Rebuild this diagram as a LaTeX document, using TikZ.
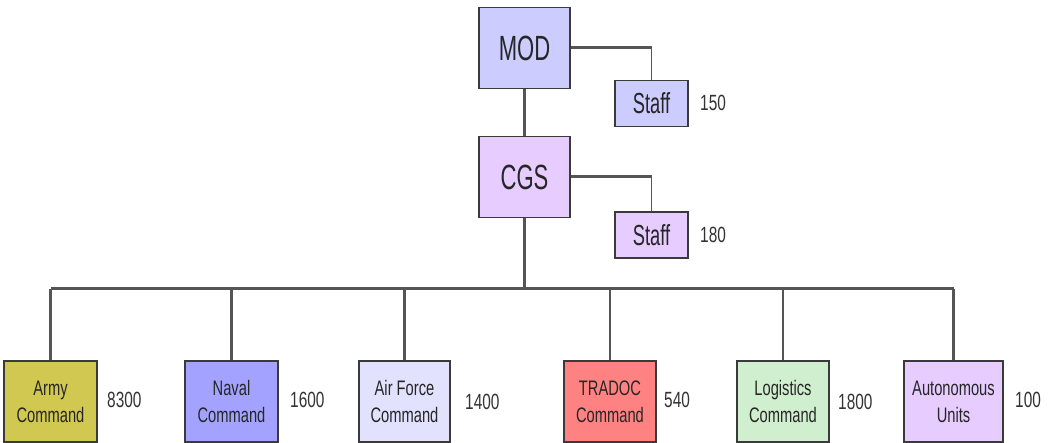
\documentclass[tikz,border=0pt]{standalone}
\usepackage{fontspec}
\setmainfont[FakeStretch=0.7]{Liberation Sans}
\newfontfamily\narrowfont[FakeStretch=0.63]{Liberation Sans}
\definecolor{cMOD}{HTML}{CCCCFF}
\definecolor{cCGS}{HTML}{E6CCFF}
\definecolor{cArmy}{HTML}{D0C850}
\definecolor{cNaval}{HTML}{A3A3FF}
\definecolor{cAir}{HTML}{E2E2FF}
\definecolor{cTra}{HTML}{FF8282}
\definecolor{cLog}{HTML}{CFEFCF}
\definecolor{cAuto}{HTML}{E6CCFF}
\definecolor{edge}{HTML}{3A3A3A}
\definecolor{wire}{HTML}{555555}
\begin{document}
\begin{tikzpicture}[x=1pt,y=-1pt,
  box/.style={draw=edge,line width=1.6pt,inner sep=0pt,align=center,text=black!85},
  topbox/.style={box,minimum width=91pt,minimum height=81pt,font=\narrowfont\fontsize{35}{38}\selectfont},
  staffbox/.style={box,minimum width=73pt,minimum height=46pt,font=\narrowfont\fontsize{29}{31}\selectfont},
  unitbox/.style={box,minimum width=92pt,minimum height=81pt,font=\fontsize{21}{27}\selectfont},
  num/.style={anchor=west,inner sep=0pt,text=black!80,font=\fontsize{22}{24}\selectfont},
  thickwire/.style={draw=wire,line width=3pt},
  thinwire/.style={draw=wire,line width=1.3pt},
  midwire/.style={draw=wire,line width=2.2pt}]
\useasboundingbox (0,0) rectangle (1053,443);
% top
\node[topbox,fill=cMOD] (mod) at (524.5,48) {MOD};
\node[staffbox,fill=cMOD] (staff1) at (651.5,103.5) {Staff};
\node[num] (n150) at (700,103) {150};
\node[topbox,fill=cCGS] (cgs) at (524.5,177) {CGS};
\node[staffbox,fill=cCGS] (staff2) at (651.5,235) {Staff};
\node[num] (n180) at (700,235) {180};
% bottom units
\node[unitbox,fill=cArmy,minimum width=93pt] (army) at (50.5,401.5) {Army\\Command};
\node[num] (n8300) at (107,400) {8300};
\node[unitbox,fill=cNaval,minimum width=93pt] (naval) at (231.5,401.5) {Naval\\Command};
\node[num] (n1600) at (290,400) {1600};
\node[unitbox,fill=cAir,minimum width=91pt] (air) at (404.5,401.5) {Air Force\\Command};
\node[num] (n1400) at (465,402) {1400};
\node[unitbox,fill=cTra] (tradoc) at (610,401.5) {TRADOC\\Command};
\node[num] (n540) at (664,400) {540};
\node[unitbox,fill=cLog] (log) at (783,401.5) {Logistics\\Command};
\node[num] (n1800) at (838,402) {1800};
\node[unitbox,fill=cAuto,minimum width=99pt] (auto) at (953.5,401.5) {Autonomous\\Units};
\node[num] (n100) at (1015,400) {100};
% connectors
\coordinate (m1) at (staff1.north |- mod.east);
\coordinate (c1) at (staff2.north |- cgs.east);
\draw[thickwire] (mod.east) -- (m1);
\draw[thinwire] (m1) -- (staff1.north);
\draw[thickwire] (cgs.east) -- (c1);
\draw[thinwire] (c1) -- (staff2.north);
\draw[thickwire] (mod.south) -- (cgs.north);
\coordinate (bus) at (524.5,289);
\draw[midwire] (cgs.south) -- (bus);
\draw[thickwire] (army.north |- bus) -- (auto.north |- bus);
\foreach \n in {army,naval,air,tradoc,log,auto}
  \draw[midwire] (\n.north |- bus) -- (\n.north);
\end{tikzpicture}
\end{document}
